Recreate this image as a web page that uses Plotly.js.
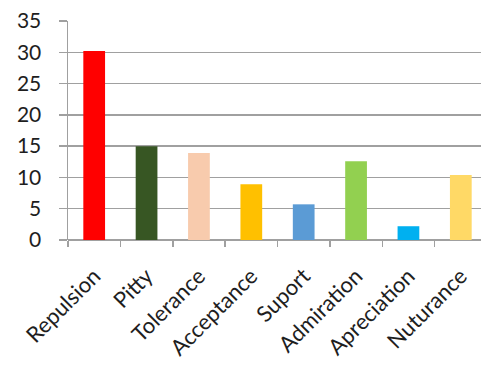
<!DOCTYPE html>
<html><head><meta charset="utf-8">
<script src="https://cdn.plot.ly/plotly-3.0.1.min.js"></script>
<style>html,body{margin:0;padding:0;overflow:hidden;background:#fff}#c{width:487px;height:369px}</style>
</head><body><div id="c"></div>
<script>
const categories = ["Repulsion","Pitty","Tolerance","Acceptance","Suport","Admiration","Apreciation","Nuturance"];
const values = [30.2, 15.0, 13.9, 8.9, 5.7, 12.6, 2.2, 10.4];
const colors = ["#ff0000","#375623","#f8cbad","#ffc000","#5b9bd5","#92d050","#00b0f0","#ffd966"];
const yTicks = [0,5,10,15,20,25,30,35];

Plotly.newPlot('c', [{
  type: 'bar', x: categories, y: values,
  marker: {color: colors, line: {width: 0}},
  hoverinfo: 'none'
}], {
  width: 487, height: 369,
  margin: {l: 68, r: 0, t: 21, b: 129},
  paper_bgcolor: '#fff', plot_bgcolor: '#fff',
  bargap: 0.585,
  showlegend: false,
  font: {family: 'Lato, "Open Sans", sans-serif', color: '#1e1e1e'},
  xaxis: {
    tickangle: -45, tickfont: {size: 22, color: '#1e1e1e'},
    ticks: 'outside', ticklen: 6, tickcolor: '#a0a0a0', tickwidth: 1.5,
    tickson: 'boundaries',
    ticklabelstandoff: 18,
    showline: false, showgrid: false, zeroline: false
  },
  yaxis: {
    range: [0, 35], tickvals: yTicks, ticktext: yTicks.map(String),
    tickfont: {size: 21, color: '#1e1e1e'},
    ticks: 'outside', ticklen: 8, tickcolor: '#a0a0a0', tickwidth: 1.5,
    ticklabelstandoff: 13,
    showgrid: true, gridcolor: '#a0a0a0', gridwidth: 1.5,
    showline: true, linecolor: '#a0a0a0', linewidth: 1.5,
    zeroline: true, zerolinecolor: '#a0a0a0', zerolinewidth: 1.5
  }
}, {staticPlot: true});
</script></body></html>
